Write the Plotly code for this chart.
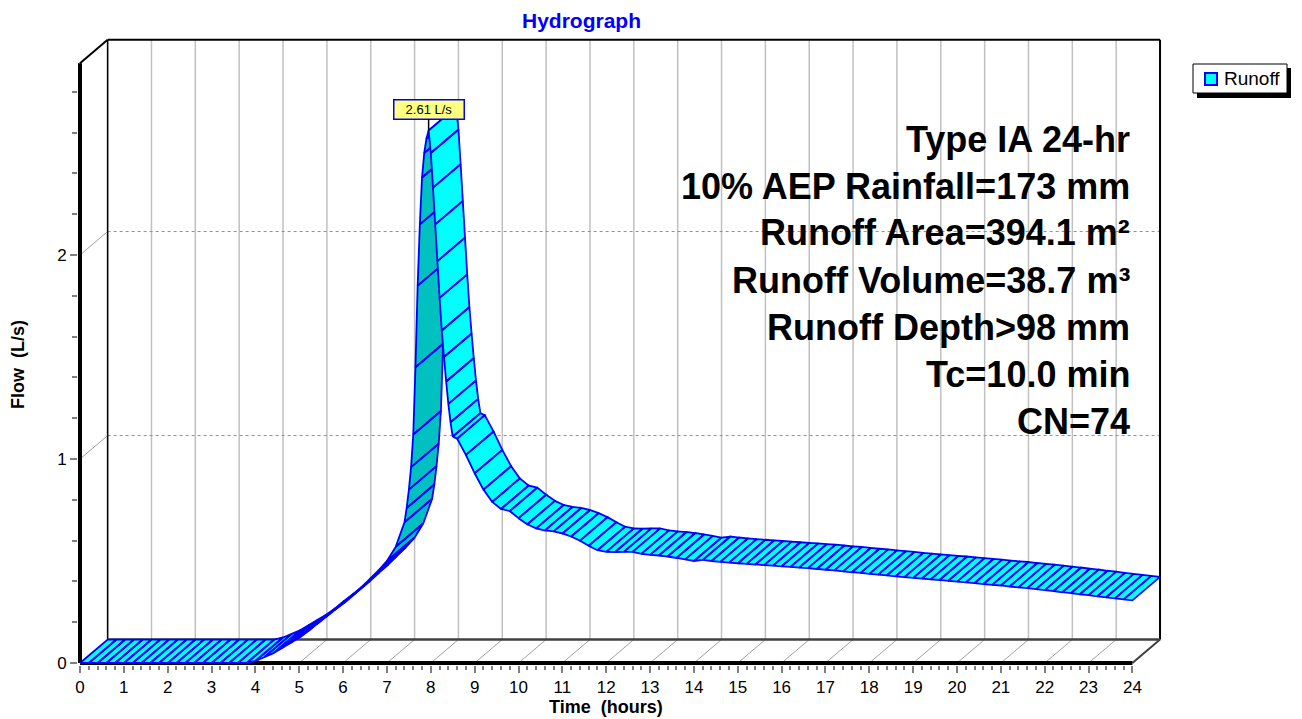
import plotly.graph_objects as go

# ---------------- data ----------------
TIME_HR = [
    0.0, 0.2, 0.4, 0.6, 0.8, 1.0, 1.2, 1.4, 1.6, 1.8,
    2.0, 2.2, 2.4, 2.6, 2.8, 3.0, 3.2, 3.4, 3.6, 3.8,
    4.0, 4.2, 4.4, 4.6, 4.8, 5.0, 5.2, 5.4, 5.6, 5.8,
    6.0, 6.2, 6.4, 6.6, 6.8, 7.0, 7.2, 7.4,
    7.45, 7.5, 7.55, 7.6, 7.65, 7.7, 7.75, 7.8, 7.85, 7.9,
    7.95, 8.0, 8.05, 8.1, 8.15, 8.2, 8.25, 8.3, 8.35, 8.4,
    8.45, 8.5, 8.6, 8.8, 9.0, 9.2, 9.4, 9.6, 9.8,
    10.0, 10.2, 10.4, 10.6, 10.8, 11.0, 11.2, 11.4, 11.6, 11.8,
    12.0, 12.2, 12.4, 12.6, 12.8, 13.0, 13.2, 13.4, 13.6, 13.8,
    14.0, 14.2, 14.4, 14.6, 14.8, 15.0, 15.2, 15.4, 15.6, 15.8,
    16.0, 16.2, 16.4, 16.6, 16.8, 17.0, 17.2, 17.4, 17.6, 17.8,
    18.0, 18.2, 18.4, 18.6, 18.8, 19.0, 19.2, 19.4, 19.6, 19.8,
    20.0, 20.2, 20.4, 20.6, 20.8, 21.0, 21.2, 21.4, 21.6, 21.8,
    22.0, 22.2, 22.4, 22.6, 22.8, 23.0, 23.2, 23.4, 23.6, 23.8,
    24.0,
]
FLOW_LPS = [
    0, 0, 0, 0, 0, 0, 0, 0, 0, 0,
    0, 0, 0, 0, 0, 0, 0, 0, 0, 0,
    0.010, 0.028, 0.047, 0.072, 0.098, 0.124, 0.155, 0.190, 0.224, 0.258,
    0.290, 0.330, 0.368, 0.410, 0.452, 0.500, 0.570, 0.690,
    0.76, 0.85, 0.96, 1.12, 1.45, 1.85, 2.15, 2.38, 2.50, 2.57,
    2.61, 2.50, 2.33, 2.15, 1.97, 1.79, 1.63, 1.50, 1.38, 1.27,
    1.18, 1.11, 1.10, 1.02, 0.93, 0.85, 0.79, 0.755, 0.745,
    0.710, 0.680, 0.660, 0.650, 0.645, 0.635, 0.620, 0.600, 0.575, 0.553,
    0.545, 0.544, 0.545, 0.545, 0.535, 0.530, 0.527, 0.522, 0.515, 0.508,
    0.500, 0.505, 0.500, 0.496, 0.492, 0.489, 0.486, 0.483, 0.480, 0.477,
    0.474, 0.471, 0.468, 0.465, 0.461, 0.457, 0.454, 0.449, 0.445, 0.442,
    0.437, 0.433, 0.430, 0.425, 0.421, 0.417, 0.414, 0.410, 0.407, 0.403,
    0.399, 0.395, 0.392, 0.387, 0.383, 0.380, 0.375, 0.371, 0.367, 0.362,
    0.357, 0.353, 0.347, 0.343, 0.337, 0.333, 0.327, 0.322, 0.317, 0.312,
    0.307,
]
assert len(TIME_HR) == len(FLOW_LPS)

X_TICKS = list(range(0, 25))
Y_TICKS = [0, 1, 2]
SERIES_NAME = "Runoff"
TITLE = "Hydrograph"
X_TITLE = "Time  (hours)"
Y_TITLE = "Flow  (L/s)"
INFO_LINES = [
    "Type IA 24-hr",
    "10% AEP Rainfall=173 mm",
    "Runoff Area=394.1 m²",
    "Runoff Volume=38.7 m³",
    "Runoff Depth>98 mm",
    "Tc=10.0 min",
    "CN=74",
]

# ---------------- layout constants ----------------
W, H = 1302, 719
FONT = "Liberation Sans, Arial, sans-serif"
DT = 0.63      # depth offset along time axis (hours)
DQ = 0.115     # depth offset along flow axis (L/s)
QTOP = 2.94    # height of the box in plane units
SX = 43.85     # px per hour
SY = 204.0     # px per L/s
X0PX = 80      # pixel of t=0 (front)
Y0PX = 663     # pixel of q=0 (front)
ML = 78
MR = 140
MT = 38
MB = H - 665
PLOT_W = W - ML - MR
PLOT_H = H - MT - MB
X_LO = -(X0PX - ML) / SX
X_HI = X_LO + PLOT_W / SX
Y_LO = -((H - MB) - Y0PX) / SY
Y_HI = Y_LO + PLOT_H / SY

CYAN = "#00FFFF"
DARK = "#00C0C0"
EDGE = "#0000FF"


def px_x(px):
    return (px - ML) / PLOT_W


def px_y(py):
    return ((H - MB) - py) / PLOT_H


fig = go.Figure()

# ---------------- ribbon (quads) ----------------
groups = []
cur_color, xs, ys = None, [], []
for i in range(len(TIME_HR) - 1):
    t1, q1 = TIME_HR[i], FLOW_LPS[i]
    t2, q2 = TIME_HR[i + 1], FLOW_LPS[i + 1]
    cross = (t2 - t1) * DQ - (q2 - q1) * DT
    color = CYAN if cross >= 0 else DARK
    if color != cur_color and xs:
        groups.append((cur_color, xs, ys))
        xs, ys = [], []
    cur_color = color
    xs += [t1, t2, t2 + DT, t1 + DT, t1, None]
    ys += [q1, q2, q2 + DQ, q1 + DQ, q1, None]
if xs:
    groups.append((cur_color, xs, ys))

for color, gx, gy in groups:
    fig.add_trace(go.Scatter(
        x=gx, y=gy, mode="lines", fill="toself", fillcolor=color,
        line=dict(color=EDGE, width=1.8), hoverinfo="skip", showlegend=False,
    ))

# ---------------- grid / frame shapes ----------------
shapes = []
GRID = "#C0C0C0"
for h in X_TICKS:
    shapes.append(dict(type="line", xref="x", yref="y", x0=h + DT, x1=h + DT,
                       y0=DQ, y1=QTOP + DQ, line=dict(color=GRID, width=1.5), layer="below"))
    if 0 < h < 24:
        shapes.append(dict(type="line", xref="x", yref="y", x0=h, x1=h + DT,
                           y0=0, y1=DQ, line=dict(color="#A0A0A0", width=1), layer="below"))
for q in Y_TICKS[1:]:
    shapes.append(dict(type="line", xref="x", yref="y", x0=DT, x1=24 + DT,
                       y0=q + DQ, y1=q + DQ, line=dict(color="#909090", width=1, dash="dot"), layer="below"))
    shapes.append(dict(type="line", xref="x", yref="y", x0=0, x1=DT,
                       y0=q, y1=q + DQ, line=dict(color="#A0A0A0", width=1), layer="below"))

frame = [
    (DT, QTOP + DQ, 24 + DT, QTOP + DQ, "black", 2),
    (24 + DT, DQ, 24 + DT, QTOP + DQ, "black", 2),
    (DT, DQ, DT, QTOP + DQ, "black", 1.5),
    (DT, DQ, 24 + DT, DQ, "#404040", 2.5),
    (24, 0, 24 + DT, DQ, "#404040", 2),
    (0, QTOP, DT, QTOP + DQ, "black", 2),
    (0, 0, 24, 0, "black", 4),
    (0, 0, 0, QTOP, "black", 4),
]
for x0, y0, x1, y1, c, w in frame:
    shapes.append(dict(type="line", xref="x", yref="y", x0=x0, y0=y0, x1=x1, y1=y1,
                       line=dict(color=c, width=w), layer="below"))

# legend (manual)
shapes.append(dict(type="rect", xref="paper", yref="paper", x0=px_x(1197), x1=px_x(1291),
                   y0=px_y(98), y1=px_y(68), fillcolor="black", line=dict(width=0)))
shapes.append(dict(type="rect", xref="paper", yref="paper", x0=px_x(1193), x1=px_x(1287),
                   y0=px_y(93), y1=px_y(64), fillcolor="white", line=dict(color="black", width=1)))
shapes.append(dict(type="rect", xref="paper", yref="paper", x0=px_x(1205), x1=px_x(1217),
                   y0=px_y(85), y1=px_y(73), fillcolor=CYAN, line=dict(color=EDGE, width=2)))

annotations = []
annotations.append(dict(xref="paper", yref="paper", x=px_x(1222), y=px_y(79), text=SERIES_NAME,
                        showarrow=False, xanchor="left", yanchor="middle",
                        font=dict(family=FONT, size=19, color="black")))

# title
annotations.append(dict(xref="paper", yref="paper", x=px_x(581), y=px_y(20), text=TITLE,
                        showarrow=False, xanchor="center", yanchor="middle",
                        font=dict(family=FONT, size=21, color="#0000FF", weight="bold")))
# axis titles
annotations.append(dict(xref="paper", yref="paper", x=px_x(606), y=px_y(707), text=X_TITLE,
                        showarrow=False, xanchor="center", yanchor="middle",
                        font=dict(family=FONT, size=18, color="black", weight="bold")))
annotations.append(dict(xref="paper", yref="paper", x=px_x(18), y=px_y(365), text=Y_TITLE,
                        showarrow=False, xanchor="center", yanchor="middle", textangle=-90,
                        font=dict(family=FONT, size=18, color="black", weight="bold")))

# info text block
for k, line in enumerate(INFO_LINES):
    annotations.append(dict(xref="x", yref="paper", x=24, y=px_y(139 + 47 * k), text=line,
                            showarrow=False, xanchor="right", yanchor="middle",
                            font=dict(family=FONT, size=36, color="black", weight="bold")))

# peak label
ipk = max(range(len(FLOW_LPS)), key=lambda i: FLOW_LPS[i])
annotations.append(dict(xref="x", yref="y", x=TIME_HR[ipk], y=FLOW_LPS[ipk],
                        text=f"{FLOW_LPS[ipk]:.2f} L/s", showarrow=True, arrowhead=0,
                        arrowwidth=1.5, arrowcolor="black", ax=0, ay=-21,
                        bgcolor="#FFFF80", bordercolor=EDGE, borderwidth=1.5, borderpad=1,
                        width=67, height=16,
                        font=dict(family=FONT, size=13, color="black")))

x_minor = [h + k * 0.2 for h in X_TICKS[:-1] for k in range(1, 5)]
y_minor = [round(k * 0.2, 2) for k in range(1, 15) if k % 5 != 0]

fig.update_layout(
    width=W, height=H, autosize=False,
    margin=dict(l=ML, r=MR, t=MT, b=MB),
    paper_bgcolor="white", plot_bgcolor="white",
    showlegend=False,
    shapes=shapes, annotations=annotations,
    xaxis=dict(range=[X_LO, X_HI], showgrid=False, zeroline=False, showline=False,
               tickmode="array", tickvals=X_TICKS, ticktext=[str(v) for v in X_TICKS],
               ticks="outside", ticklen=7, tickwidth=1.5, tickcolor="#808080",
               tickfont=dict(family=FONT, size=17, color="black"),
               minor=dict(tickmode="array", tickvals=x_minor, ticks="outside",
                          ticklen=4, tickwidth=1.5, tickcolor="#808080", showgrid=False),
               fixedrange=True),
    yaxis=dict(range=[Y_LO, Y_HI], showgrid=False, zeroline=False, showline=False,
               tickmode="array", tickvals=Y_TICKS, ticktext=[str(v) for v in Y_TICKS],
               ticks="outside", ticklen=7, tickwidth=1.5, tickcolor="#808080",
               tickfont=dict(family=FONT, size=17, color="black"),
               minor=dict(tickmode="array", tickvals=y_minor, ticks="outside",
                          ticklen=5, tickwidth=1.5, tickcolor="#808080", showgrid=False),
               fixedrange=True),
)

fig.write_html("out.html")
